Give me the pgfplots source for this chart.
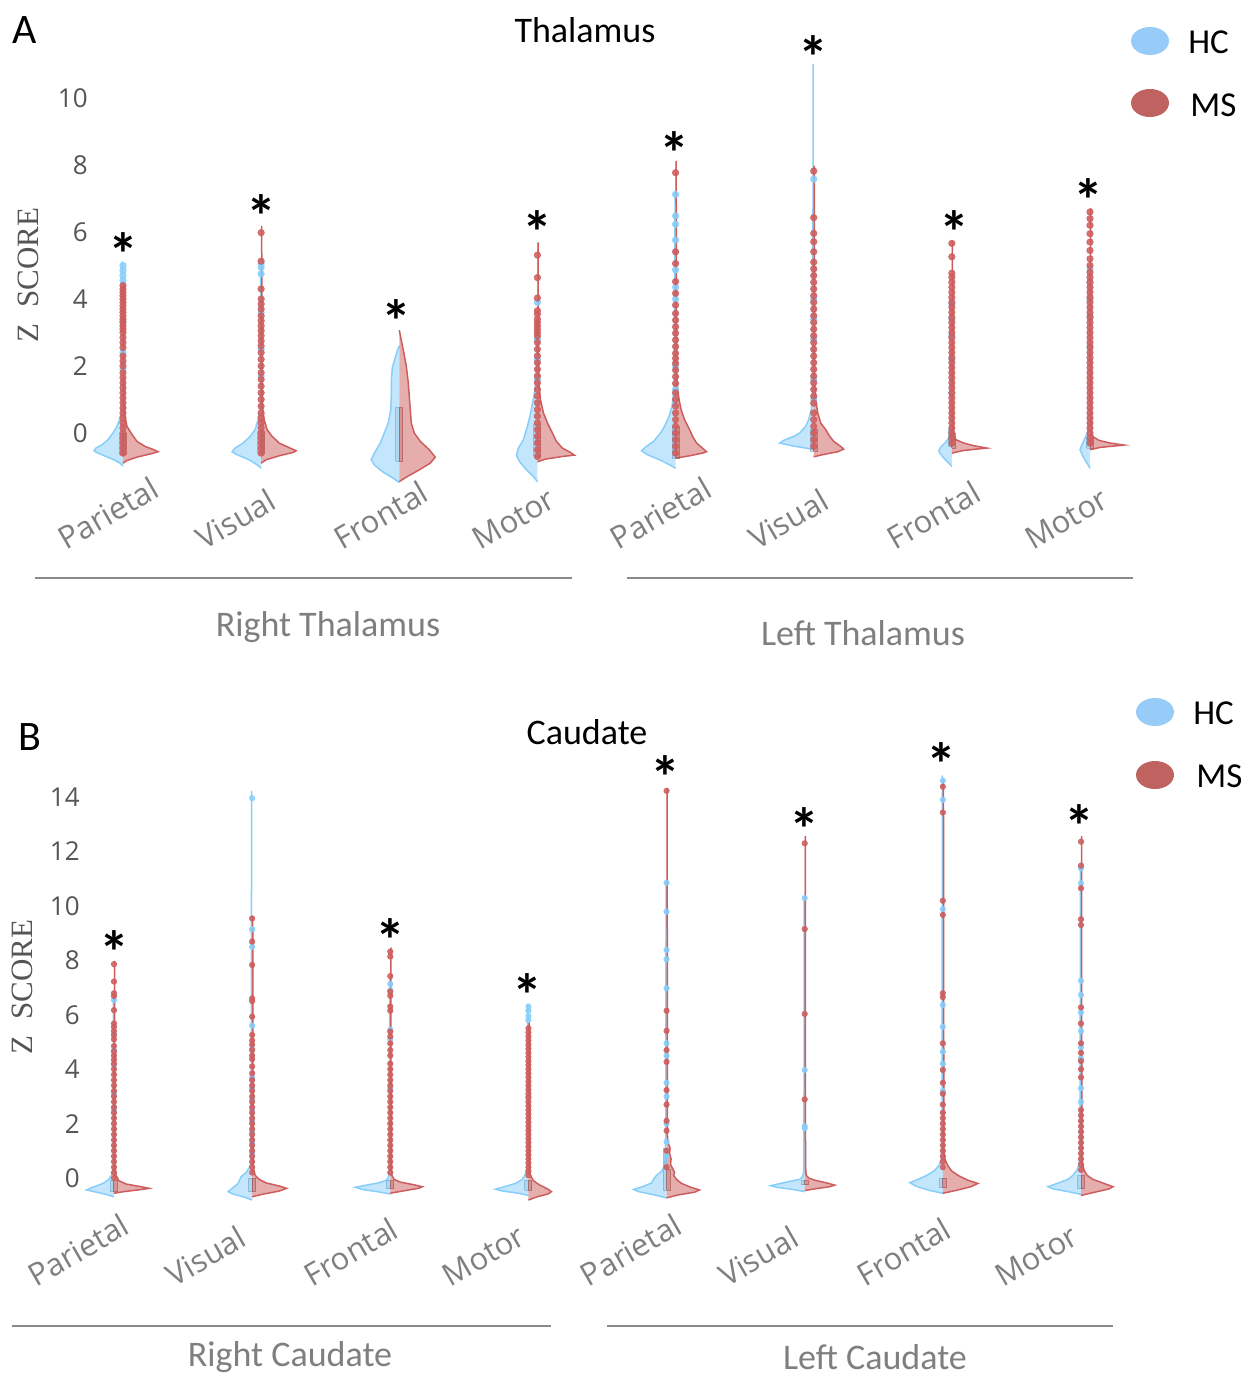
\documentclass[border=0pt]{standalone}
\usepackage{pgfplots}
\pgfplotsset{compat=1.18}
\usepackage{fontspec}
\setmainfont{Open Sans}
\newfontfamily\calfont{Carlito}
\newfontfamily\serifz{Liberation Serif}
\definecolor{HC}{HTML}{87CEFA}
\definecolor{MS}{HTML}{CD5C5C}
\definecolor{HCleg}{HTML}{97CBF8}
\definecolor{MSleg}{HTML}{BF6360}
\definecolor{tickgray}{HTML}{7F7F7F}
\definecolor{numgray}{HTML}{555555}
\definecolor{linegray}{HTML}{8A8A8A}

\pgfplotsset{
  hcv/.style={fill=HC, fill opacity=0.5, draw=HC, line width=0.75pt},
  msv/.style={fill=MS, fill opacity=0.5, draw=MS, line width=0.75pt},
  hcb/.style={fill=HC!80!black, fill opacity=0.25, draw=HC!80!black, draw opacity=0.6, line width=0.5pt, unbounded coords=jump},
  msb/.style={fill=MS!80!black, fill opacity=0.25, draw=MS!80!black, draw opacity=0.6, line width=0.5pt, unbounded coords=jump},
  dotsize/.initial=1.6pt,
  hcd/.style={only marks, mark=*, color=HC, mark size=\pgfkeysvalueof{/pgfplots/dotsize}, mark options={solid, fill=HC, draw=HC, opacity=0.85}},
  msd/.style={only marks, mark=*, color=MS, mark size=\pgfkeysvalueof{/pgfplots/dotsize}, mark options={solid, fill=MS, draw=MS, opacity=0.85}},
  stars/.style={draw=none, mark=none, nodes near coords={\calfont\bfseries *},
    every node near coord/.style={anchor=center, yshift=-4.8pt, font=\fontsize{30}{30}\selectfont, text=black}},
  vbase/.style={scale only axis, anchor=south west, clip=false,
    xmin=-0.6, xmax=7.6, width=566.4pt,
    axis line style={draw=none}, tick style={draw=none}, major tick length=0pt,
    xtick={0,...,7},
    xticklabels={Parietal,Visual,Frontal,Motor,Parietal,Visual,Frontal,Motor},
    yticklabel style={font=\fontsize{13}{13}\selectfont, text=numgray, anchor=east, inner sep=0pt},
    /pgf/number format/assume math mode=true},
}

\newcommand{\hv}[2]{\addplot[hcv] table[x expr={#1-\thisrow{w}/138.14}, y=y, row sep=\\]{y w\\ #2};}
\newcommand{\mv}[2]{\addplot[msv] table[x expr={#1+\thisrow{w}/138.14}, y=y, row sep=\\]{y w\\ #2};}
\newcommand{\hd}[2]{\addplot[hcd] table[x expr=#1, y index=0, header=false, row sep=\\]{#2};}
\newcommand{\md}[2]{\addplot[msd] table[x expr=#1, y index=0, header=false, row sep=\\]{#2};}

\begin{document}
\begin{tikzpicture}
\path[use as bounding box] (0,0) rectangle (626pt,-688pt);

%================ PANEL A ================
\begin{axis}[vbase, at={(20.05pt,-243.3pt)}, ymin=-1.6, ymax=11.4, height=217.75pt,
  dotsize=1.6pt,
  ytick={0,2,...,10},
  yticklabel style={xshift=24pt},
  xticklabel style={inner sep=0pt, xshift=-28.5pt, yshift=-32pt, rotate=30, anchor=base west,
    font=\fontsize{15.5}{15.5}\selectfont, text=tickgray}]
% HC halves
\hv{0}{-0.99 0\\ -0.9 3\\ -0.8 9\\ -0.7 17\\ -0.6 25\\ -0.53 29\\ -0.45 27\\ -0.35 21\\ -0.2 15\\ 0 10\\ 0.2 6\\ 0.4 3.5\\ 0.6 1.8\\ 0.8 0.6\\ 5.1 0.5\\ 5.1 0\\}
\hv{1}{-1.05 0\\ -0.95 4\\ -0.8 12\\ -0.65 24\\ -0.56 29\\ -0.45 26\\ -0.3 18\\ -0.1 11\\ 0.1 6\\ 0.4 3\\ 0.7 1.2\\ 0.9 0.6\\ 5.07 0.5\\ 5.07 0\\}
\hv{2}{-1.48 0\\ -1.35 6\\ -1.15 17\\ -0.95 25\\ -0.8 28\\ -0.6 25\\ -0.3 19\\ 0 15\\ 0.3 11\\ 0.7 8.5\\ 1.1 8\\ 1.5 8\\ 1.95 7\\ 2.2 4.5\\ 2.45 2\\ 2.6 0\\}
\hv{3}{-1.45 0\\ -1.3 4\\ -1.1 11\\ -0.85 18\\ -0.66 21\\ -0.45 19\\ -0.2 14\\ 0.2 10\\ 0.5 7.5\\ 0.8 5.5\\ 1.1 3.5\\ 1.4 2\\ 1.8 1\\ 2.4 0.6\\ 3.3 0.5\\ 3.3 0\\}
\hv{4}{-1.05 0\\ -0.95 6\\ -0.8 16\\ -0.65 28\\ -0.53 34\\ -0.42 30\\ -0.25 22\\ 0 15\\ 0.2 11\\ 0.5 6.5\\ 0.8 3.5\\ 1.2 2\\ 1.5 1\\ 7.2 0.5\\ 7.2 0\\}
\hv{5}{-0.5 0\\ -0.45 8\\ -0.38 22\\ -0.3 34\\ -0.22 30\\ -0.1 20\\ 0 14\\ 0.2 8\\ 0.4 5\\ 0.7 2.5\\ 1.0 1\\ 11.0 0.5\\ 11.0 0\\}
\hv{6}{-1.0 0\\ -0.9 3\\ -0.75 8\\ -0.6 12\\ -0.53 13\\ -0.42 11\\ -0.3 7\\ -0.15 3\\ 0 1.5\\ 0.2 0.8\\ 3.9 0.5\\ 3.9 0\\}
\hv{7}{-1.05 0\\ -0.9 3\\ -0.7 7\\ -0.5 10\\ -0.35 8\\ -0.15 5\\ 0 2.5\\ 0.2 1.2\\ 0.5 0.6\\ 4.9 0.5\\ 4.9 0\\}
% MS halves
\mv{0}{-0.9 0\\ -0.82 4\\ -0.72 14\\ -0.62 28\\ -0.56 35\\ -0.5 31\\ -0.4 22\\ -0.25 14\\ 0 8\\ 0.2 4\\ 0.5 2\\ 1.0 0.8\\ 4.45 0.6\\ 4.45 0\\}
\mv{1}{-0.9 0\\ -0.8 5\\ -0.68 18\\ -0.58 32\\ -0.53 35\\ -0.45 29\\ -0.3 18\\ -0.1 11\\ 0.1 6\\ 0.4 3\\ 0.8 1.2\\ 1.5 0.7\\ 6.16 0.6\\ 6.16 0\\}
\mv{2}{-1.45 0\\ -1.3 8\\ -1.1 20\\ -0.9 31\\ -0.72 36\\ -0.5 30\\ -0.25 21\\ 0 15\\ 0.3 12\\ 0.7 11\\ 1.1 10\\ 1.5 9\\ 2.0 7\\ 2.4 4.5\\ 2.7 2.5\\ 3.07 0\\}
\mv{3}{-0.86 0\\ -0.78 8\\ -0.7 25\\ -0.66 37\\ -0.58 33\\ -0.45 25\\ -0.25 19\\ 0 15\\ 0.3 10\\ 0.6 6\\ 1.0 3\\ 1.5 1.5\\ 2.5 0.8\\ 5.67 0.6\\ 5.67 0\\}
\mv{4}{-0.75 0\\ -0.68 14\\ -0.6 27\\ -0.56 31\\ -0.48 28\\ -0.3 21\\ -0.1 17\\ 0.1 14\\ 0.4 9\\ 0.7 5.5\\ 1.0 3.5\\ 1.3 2\\ 1.8 1\\ 8.1 0.6\\ 8.1 0\\}
\mv{5}{-0.71 0\\ -0.64 10\\ -0.56 24\\ -0.48 30\\ -0.4 27\\ -0.25 20\\ -0.1 16\\ 0.1 12\\ 0.3 7\\ 0.6 4\\ 1.0 2\\ 1.5 1\\ 7.95 0.6\\ 7.95 0\\}
\mv{6}{-0.6 0\\ -0.52 12\\ -0.45 35\\ -0.38 22\\ -0.3 12\\ -0.2 4\\ -0.05 1.5\\ 0.5 0.8\\ 5.71 0.6\\ 5.71 0\\}
\mv{7}{-0.5 0\\ -0.43 10\\ -0.36 34\\ -0.3 20\\ -0.22 9\\ -0.12 3.5\\ 0 1.5\\ 0.5 0.8\\ 6.7 0.6\\ 6.7 0\\}
% inner boxes
\addplot[hcb] table[row sep=\\]{x y\\
-0.025 -0.65\\ 0 -0.65\\ 0 0\\ -0.025 0\\ -0.025 -0.65\\ nan nan\\
0.975 -0.6\\ 1 -0.6\\ 1 0.05\\ 0.975 0.05\\ 0.975 -0.6\\ nan nan\\
1.975 -0.85\\ 2 -0.85\\ 2 0.75\\ 1.975 0.75\\ 1.975 -0.85\\ nan nan\\
2.975 -0.7\\ 3 -0.7\\ 3 0.25\\ 2.975 0.25\\ 2.975 -0.7\\ nan nan\\
3.975 -0.75\\ 4 -0.75\\ 4 0.2\\ 3.975 0.2\\ 3.975 -0.75\\ nan nan\\
4.975 -0.55\\ 5 -0.55\\ 5 0.1\\ 4.975 0.1\\ 4.975 -0.55\\ nan nan\\
5.975 -0.4\\ 6 -0.4\\ 6 0.1\\ 5.975 0.1\\ 5.975 -0.4\\ nan nan\\
6.975 -0.45\\ 7 -0.45\\ 7 -0.15\\ 6.975 -0.15\\ 6.975 -0.45\\
};
\addplot[msb] table[row sep=\\]{x y\\
0 -0.65\\ 0.025 -0.65\\ 0.025 0\\ 0 0\\ 0 -0.65\\ nan nan\\
1 -0.6\\ 1.025 -0.6\\ 1.025 0.05\\ 1 0.05\\ 1 -0.6\\ nan nan\\
2 -0.85\\ 2.025 -0.85\\ 2.025 0.75\\ 2 0.75\\ 2 -0.85\\ nan nan\\
3 -0.7\\ 3.025 -0.7\\ 3.025 0.25\\ 3 0.25\\ 3 -0.7\\ nan nan\\
4 -0.75\\ 4.025 -0.75\\ 4.025 0.2\\ 4 0.2\\ 4 -0.75\\ nan nan\\
5 -0.55\\ 5.025 -0.55\\ 5.025 0.1\\ 5 0.1\\ 5 -0.55\\ nan nan\\
6 -0.45\\ 6.025 -0.45\\ 6.025 0\\ 6 0\\ 6 -0.45\\ nan nan\\
7 -0.45\\ 7.025 -0.45\\ 7.025 -0.15\\ 7 -0.15\\ 7 -0.45\\
};
% points HC
\hd{0}{4.55\\4.7\\4.85\\5.0\\2.4\\1.9\\3.35\\}
\hd{1}{4.75\\4.95\\5.05\\3.6\\2.5\\1.7\\}
\hd{3}{2.2\\1.6\\3.9\\2.8\\}
\hd{4}{7.12\\6.48\\6.23\\5.76\\4.87\\4.35\\4.0\\2.0\\1.3\\}
\hd{5}{7.58\\4.0\\3.4\\2.8\\1.6\\1.0\\}
\hd{6}{3.85\\3.4\\2.9\\2.2\\1.2\\}
\hd{7}{4.9\\4.5\\4.0\\3.5\\2.6\\}
% points MS
\md{0}{-0.6\\-0.45\\-0.3\\-0.15\\0\\0.15\\0.3\\0.45\\0.6\\0.75\\0.9\\1.05\\1.2\\1.35\\1.5\\1.65\\1.8\\2.0\\2.15\\2.3\\2.55\\2.7\\2.85\\3.0\\3.1\\3.2\\3.3\\3.4\\3.5\\3.6\\3.7\\3.8\\3.9\\4.0\\4.1\\4.2\\4.3\\4.4\\}
\md{1}{-0.6\\-0.45\\-0.3\\-0.15\\0\\0.15\\0.3\\0.45\\0.6\\0.8\\1.0\\1.2\\1.4\\1.6\\1.8\\2.0\\2.2\\2.4\\2.6\\2.75\\2.9\\3.05\\3.2\\3.35\\3.5\\3.7\\3.85\\4.0\\4.3\\5.13\\5.98\\}
\md{3}{-0.7\\-0.5\\-0.3\\-0.1\\0.1\\0.3\\0.5\\0.7\\0.9\\1.1\\1.3\\1.5\\1.7\\1.9\\2.1\\2.3\\2.5\\2.7\\2.9\\3.0\\3.1\\3.2\\3.3\\3.4\\3.55\\3.65\\4.03\\4.64\\5.31\\}
\md{4}{-0.6\\-0.4\\-0.2\\0\\0.2\\0.4\\0.6\\0.8\\1.0\\1.2\\1.48\\1.68\\1.88\\2.08\\2.23\\2.38\\2.58\\2.78\\2.98\\3.17\\3.37\\3.57\\3.82\\4.17\\4.52\\5.06\\5.41\\7.77\\}
\md{5}{-0.4\\-0.2\\0\\0.2\\0.4\\0.6\\0.89\\1.1\\1.3\\1.5\\1.7\\1.9\\2.1\\2.3\\2.5\\2.7\\2.9\\3.1\\3.3\\3.5\\3.7\\3.9\\4.1\\4.3\\4.5\\4.7\\4.9\\5.1\\5.41\\5.71\\5.96\\6.43\\7.82\\}
\md{6}{-0.3\\-0.15\\0\\0.15\\0.3\\0.45\\0.6\\0.75\\0.9\\1.05\\1.2\\1.35\\1.5\\1.65\\1.8\\1.95\\2.1\\2.25\\2.4\\2.55\\2.7\\2.85\\3.0\\3.15\\3.3\\3.45\\3.6\\3.75\\3.9\\4.05\\4.2\\4.35\\4.5\\4.65\\4.77\\5.26\\5.66\\}
\md{7}{-0.3\\-0.15\\0\\0.15\\0.3\\0.45\\0.6\\0.75\\0.9\\1.05\\1.2\\1.35\\1.5\\1.65\\1.8\\1.95\\2.1\\2.25\\2.4\\2.55\\2.7\\2.85\\3.0\\3.15\\3.3\\3.45\\3.6\\3.75\\3.9\\4.05\\4.2\\4.35\\4.5\\4.65\\4.8\\5.0\\5.2\\5.45\\5.7\\5.95\\6.2\\6.4\\6.6\\}
% significance stars
\addplot[stars] coordinates {(0,5.64) (1,6.75) (1.98,3.64) (3,6.30) (3.99,8.63) (5,11.52) (6.02,6.30) (6.99,7.25)};
\end{axis}

%================ PANEL B ================
\begin{axis}[vbase, at={(15.55pt,-610.77pt)}, ymin=-1.6, ymax=15.4, height=231.3pt,
  dotsize=1.35pt,
  ytick={0,2,...,14},
  yticklabel style={xshift=24.5pt},
  xticklabel style={inner sep=0pt, xshift=-39pt, yshift=-33pt, rotate=30, anchor=base west,
    font=\fontsize{15.5}{15.5}\selectfont, text=tickgray}]
\hv{0}{-0.69 0\\ -0.6 8\\ -0.5 20\\ -0.44 27.5\\ -0.35 22\\ -0.2 11\\ -0.05 5\\ 0.1 2.5\\ 0.3 1\\ 6.6 0.5\\ 6.6 0\\}
\hv{1}{-0.81 0\\ -0.7 8\\ -0.58 20\\ -0.5 24\\ -0.38 20\\ -0.2 14\\ 0.05 11\\ 0.2 6\\ 0.4 2.5\\ 0.6 1\\ 14.2 0.5\\ 14.2 0\\}
\hv{2}{-0.59 0\\ -0.52 10\\ -0.42 28\\ -0.34 35\\ -0.27 25\\ -0.18 12\\ -0.1 5\\ 0 2\\ 0.3 0.8\\ 7.3 0.5\\ 7.3 0\\}
\hv{3}{-0.64 0\\ -0.56 10\\ -0.47 27\\ -0.41 33\\ -0.33 25\\ -0.2 13\\ -0.05 6\\ 0.15 3\\ 0.35 1.5\\ 0.6 0.8\\ 6.36 0.5\\ 6.36 0\\}
\hv{4}{-0.73 0\\ -0.62 12\\ -0.5 28\\ -0.42 33\\ -0.32 24\\ -0.18 15\\ -0.05 13\\ 0.1 10\\ 0.25 5\\ 0.45 2\\ 0.7 1.5\\ 1.0 1.2\\ 1.5 0.8\\ 10.9 0.5\\ 10.9 0\\}
\hv{5}{-0.5 0\\ -0.42 12\\ -0.34 28\\ -0.28 34\\ -0.2 24\\ -0.1 12\\ -0.05 5\\ 0.05 2\\ 0.3 0.8\\ 10.3 0.5\\ 10.3 0\\}
\hv{6}{-0.56 0\\ -0.45 14\\ -0.3 27\\ -0.17 33\\ -0.05 25\\ 0.1 16\\ 0.25 9\\ 0.45 4\\ 0.7 1.5\\ 1.0 0.8\\ 14.77 0.5\\ 14.77 0\\}
\hv{7}{-0.6 0\\ -0.5 13\\ -0.4 28\\ -0.32 33\\ -0.2 24\\ -0.05 13\\ 0.1 8\\ 0.3 4\\ 0.5 2\\ 0.8 1\\ 11.45 0.5\\ 11.45 0\\}
\mv{0}{-0.56 0\\ -0.5 10\\ -0.42 28\\ -0.38 35\\ -0.32 27\\ -0.22 12\\ -0.1 5\\ 0.1 2\\ 0.4 1\\ 7.95 0.6\\ 7.95 0\\}
\mv{1}{-0.69 0\\ -0.6 10\\ -0.48 27\\ -0.38 34.5\\ -0.3 28\\ -0.18 14\\ -0.05 7\\ 0.1 3\\ 0.4 1\\ 9.6 0.6\\ 9.6 0\\}
\mv{2}{-0.56 0\\ -0.48 12\\ -0.38 28\\ -0.32 32\\ -0.25 24\\ -0.15 10\\ -0.05 4\\ 0.1 1.5\\ 0.4 0.8\\ 8.45 0.6\\ 8.45 0\\}
\mv{3}{-0.81 0\\ -0.7 8\\ -0.58 20\\ -0.5 23\\ -0.4 19\\ -0.25 11\\ -0.1 5\\ 0.1 2\\ 0.4 0.8\\ 5.7 0.6\\ 5.7 0\\}
\mv{4}{-0.73 0\\ -0.62 12\\ -0.52 28\\ -0.44 33\\ -0.35 25\\ -0.2 15\\ -0.05 10\\ 0.1 7\\ 0.2 8\\ 0.35 6\\ 0.5 4\\ 0.7 4.5\\ 0.9 3\\ 1.1 3.5\\ 1.3 1.5\\ 1.6 0.8\\ 14.3 0.6\\ 14.3 0\\}
\mv{5}{-0.46 0\\ -0.4 10\\ -0.32 25\\ -0.26 30\\ -0.18 22\\ -0.08 10\\ 0.0 4\\ 0.1 1.5\\ 0.4 0.8\\ 12.54 0.6\\ 12.54 0\\}
\mv{6}{-0.56 0\\ -0.45 14\\ -0.32 28\\ -0.2 35\\ -0.08 25\\ 0.08 16\\ 0.25 9\\ 0.45 5\\ 0.7 2\\ 1.0 1\\ 14.6 0.6\\ 14.6 0\\}
\mv{7}{-0.64 0\\ -0.52 14\\ -0.4 28\\ -0.32 32\\ -0.2 23\\ -0.05 12\\ 0.1 6\\ 0.3 3\\ 0.6 1.2\\ 1.0 0.8\\ 12.54 0.6\\ 12.54 0\\}
\addplot[hcb] table[row sep=\\]{x y\\
-0.025 -0.5\\ 0 -0.5\\ 0 -0.1\\ -0.025 -0.1\\ -0.025 -0.5\\ nan nan\\
0.975 -0.5\\ 1 -0.5\\ 1 0\\ 0.975 0\\ 0.975 -0.5\\ nan nan\\
1.975 -0.4\\ 2 -0.4\\ 2 -0.1\\ 1.975 -0.1\\ 1.975 -0.4\\ nan nan\\
2.975 -0.45\\ 3 -0.45\\ 3 -0.1\\ 2.975 -0.1\\ 2.975 -0.45\\ nan nan\\
3.975 -0.45\\ 4 -0.45\\ 4 1.1\\ 3.975 1.1\\ 3.975 -0.45\\ nan nan\\
4.975 -0.25\\ 5 -0.25\\ 5 -0.1\\ 4.975 -0.1\\ 4.975 -0.25\\ nan nan\\
5.975 -0.35\\ 6 -0.35\\ 6 0\\ 5.975 0\\ 5.975 -0.35\\ nan nan\\
6.975 -0.4\\ 7 -0.4\\ 7 0.1\\ 6.975 0.1\\ 6.975 -0.4\\
};
\addplot[msb] table[row sep=\\]{x y\\
0 -0.5\\ 0.025 -0.5\\ 0.025 -0.1\\ 0 -0.1\\ 0 -0.5\\ nan nan\\
1 -0.5\\ 1.025 -0.5\\ 1.025 0\\ 1 0\\ 1 -0.5\\ nan nan\\
2 -0.4\\ 2.025 -0.4\\ 2.025 -0.1\\ 2 -0.1\\ 2 -0.4\\ nan nan\\
3 -0.45\\ 3.025 -0.45\\ 3.025 -0.1\\ 3 -0.1\\ 3 -0.45\\ nan nan\\
4 -0.45\\ 4.025 -0.45\\ 4.025 0.3\\ 4 0.3\\ 4 -0.45\\ nan nan\\
5 -0.25\\ 5.025 -0.25\\ 5.025 -0.1\\ 5 -0.1\\ 5 -0.25\\ nan nan\\
6 -0.35\\ 6.025 -0.35\\ 6.025 0\\ 6 0\\ 6 -0.35\\ nan nan\\
7 -0.4\\ 7.025 -0.4\\ 7.025 0.1\\ 7 0.1\\ 7 -0.4\\
};
\hd{0}{6.54\\5.3\\4.7\\4.15\\3.1\\2.5\\}
\hd{1}{13.96\\9.14\\8.5\\5.6\\4.75\\3.7\\3.3\\2.9\\2.5\\2.1\\1.7\\1.3\\0.9\\}
\hd{2}{7.13\\6.9\\5.45\\5.1\\3.3\\}
\hd{3}{6.3\\6.15\\5.95\\5.8\\3.0\\}
\hd{4}{10.85\\9.79\\8.38\\8.04\\6.97\\4.95\\4.5\\3.5\\3.0\\2.0\\1.33\\0.8\\}
\hd{5}{10.29\\3.97\\1.83\\1.9\\}
\hd{6}{14.6\\13.9\\9.88\\6.36\\5.56\\4.65\\4.2\\3.2\\}
\hd{7}{11.38\\10.83\\7.25\\6.73\\6.08\\5.4\\4.8\\4.4\\3.3\\2.8\\}
\md{0}{7.86\\7.22\\6.79\\6.69\\6.17\\5.68\\5.55\\5.4\\5.25\\5.1\\4.85\\4.65\\4.5\\4.35\\4.2\\4.0\\3.8\\3.6\\3.4\\3.2\\3.0\\2.8\\2.6\\2.4\\2.2\\2.0\\1.8\\1.6\\1.4\\1.2\\1.0\\0.8\\0.6\\0.4\\0.2\\0.0\\}
\md{1}{9.54\\8.69\\7.83\\6.6\\6.5\\5.93\\5.26\\5.05\\4.9\\4.7\\4.5\\4.37\\4.1\\3.85\\3.6\\3.4\\3.2\\3.0\\2.8\\2.6\\2.4\\2.2\\2.0\\1.8\\1.6\\1.4\\1.2\\1.0\\0.8\\0.6\\0.4\\0.2\\}
\md{2}{8.32\\8.14\\7.42\\6.85\\6.7\\6.3\\6.15\\5.38\\5.2\\4.95\\4.7\\4.5\\4.2\\4.0\\3.8\\3.6\\3.4\\3.2\\3.0\\2.8\\2.6\\2.4\\2.2\\2.0\\1.8\\1.6\\1.4\\1.2\\1.0\\0.8\\0.6\\0.4\\0.2\\}
\md{3}{5.5\\5.35\\5.2\\5.05\\4.9\\4.75\\4.6\\4.45\\4.3\\4.15\\4.0\\3.85\\3.7\\3.55\\3.4\\3.25\\3.1\\2.95\\2.8\\2.65\\2.5\\2.35\\2.2\\2.05\\1.9\\1.75\\1.6\\1.45\\1.3\\1.15\\1.0\\0.85\\0.7\\0.55\\0.4\\0.25\\0.1\\}
\md{4}{14.23\\6.15\\5.41\\4.7\\4.27\\3.23\\2.7\\2.1\\1.74\\1.0\\0.4\\}
\md{5}{12.3\\9.15\\6.03\\2.89\\}
\md{6}{14.38\\13.43\\10.19\\9.67\\6.79\\6.65\\4.95\\3.97\\3.5\\3.1\\2.7\\2.4\\2.2\\2.0\\1.8\\1.6\\1.4\\1.2\\1.0\\0.8\\0.6\\0.4\\}
\md{7}{12.36\\11.48\\10.65\\9.51\\9.3\\6.27\\5.68\\4.95\\4.6\\4.3\\4.0\\3.7\\2.5\\2.3\\2.1\\1.9\\1.7\\1.5\\1.3\\1.1\\0.9\\0.7\\0.5\\0.3\\}
\addplot[stars] coordinates {(0,8.67) (2,9.11) (2.99,7.09) (3.99,15.07) (5,13.16) (5.99,15.55) (6.99,13.27)};
\end{axis}

%================ annotations (pixel grid) ================
\begin{scope}[x=0.5pt, y=-0.5pt]
\node[font=\calfont\fontsize{21}{21}\selectfont] at (25,30) {A};
\node[font=\calfont\fontsize{21}{21}\selectfont] at (30,737) {B};
\node[font=\calfont\fontsize{18}{18}\selectfont] at (585,30) {Thalamus};
\node[font=\calfont\fontsize{18}{18}\selectfont] at (587,732) {Caudate};
\node[rotate=90, font=\serifz\fontsize{15.5}{15.5}\selectfont, text=numgray] at (28,275) {Z\hspace{0.5em}SCORE};
\node[rotate=90, font=\serifz\fontsize{15.5}{15.5}\selectfont, text=numgray] at (22,987) {Z\hspace{0.5em}SCORE};
\draw[linegray, line width=0.6pt] (35,578) -- (572,578);
\draw[linegray, line width=0.6pt] (627,578) -- (1133,578);
\draw[linegray, line width=0.6pt] (12,1326) -- (551,1326);
\draw[linegray, line width=0.6pt] (607,1326) -- (1113,1326);
\node[font=\calfont\fontsize{18}{18}\selectfont, text=tickgray] at (328,627) {Right Thalamus};
\node[font=\calfont\fontsize{18}{18}\selectfont, text=tickgray] at (863,633) {Left Thalamus};
\node[font=\calfont\fontsize{18}{18}\selectfont, text=tickgray] at (290,1357) {Right Caudate};
\node[font=\calfont\fontsize{18}{18}\selectfont, text=tickgray] at (875,1357) {Left Caudate};
% legends
\fill[HCleg] (1150,41) ellipse (9.5pt and 7pt);
\fill[MSleg] (1150,103) ellipse (9.5pt and 7pt);
\node[anchor=west, font=\calfont\fontsize{17.5}{17.5}\selectfont, inner sep=0pt] at (1188,42) {HC};
\node[anchor=west, font=\calfont\fontsize{17.5}{17.5}\selectfont, inner sep=0pt] at (1190,105) {MS};
\fill[HCleg] (1155,712) ellipse (9.5pt and 7pt);
\fill[MSleg] (1155,775) ellipse (9.5pt and 7pt);
\node[anchor=west, font=\calfont\fontsize{17.5}{17.5}\selectfont, inner sep=0pt] at (1193,713) {HC};
\node[anchor=west, font=\calfont\fontsize{17.5}{17.5}\selectfont, inner sep=0pt] at (1196,776) {MS};
\end{scope}
\end{tikzpicture}
\end{document}
